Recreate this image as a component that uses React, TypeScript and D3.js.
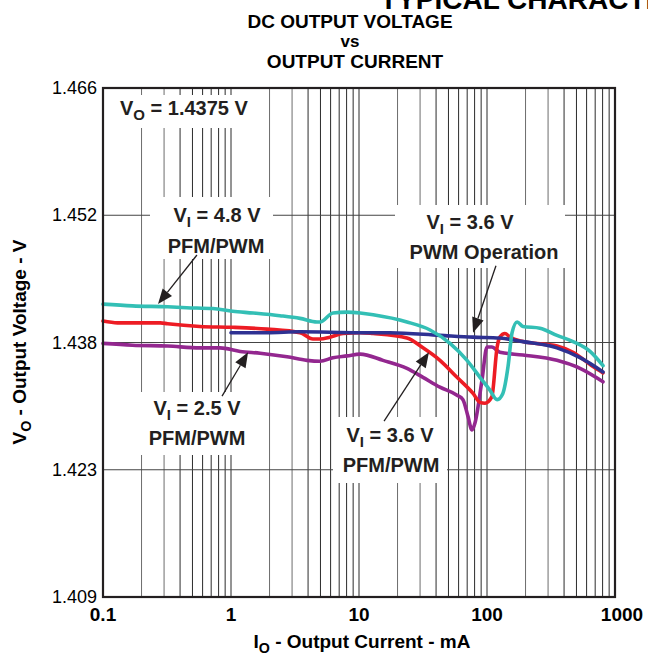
import * as d3 from 'd3'

// Output current (mA) / output voltage (V)
const cyanI = [0.1, 0.17, 0.32, 0.45, 0.72, 1.03, 1.49, 2.41, 3.46, 4.7, 4.96, 6.26, 8.06, 10.2, 12.9, 23.7, 35.9, 51.4, 69.8, 88.1, 105, 120, 133, 146, 157, 172, 191, 259, 352, 470, 638, 806]
const cyanV = [1.4418, 1.4416, 1.4415, 1.4414, 1.4413, 1.441, 1.4408, 1.4405, 1.4402, 1.4398, 1.4398, 1.4408, 1.4409, 1.4408, 1.4406, 1.4398, 1.4389, 1.4374, 1.4355, 1.4336, 1.4322, 1.4311, 1.4318, 1.4348, 1.4386, 1.4398, 1.4393, 1.4391, 1.4383, 1.4376, 1.4365, 1.4349]

const redI = [0.1, 0.13, 0.28, 0.32, 0.57, 1.03, 1.91, 3.46, 4.37, 4.96, 5.93, 7.5, 10.2, 12.9, 23.7, 31.6, 42.9, 58.3, 77.8, 88.1, 96.5, 109, 120, 126, 138, 151, 191, 352, 470, 673, 806]
const redV = [1.4399, 1.4397, 1.4397, 1.4396, 1.4393, 1.4392, 1.439, 1.4386, 1.4379, 1.4379, 1.4381, 1.4385, 1.4386, 1.4385, 1.438, 1.4369, 1.4355, 1.4336, 1.4318, 1.4308, 1.4307, 1.4314, 1.437, 1.4381, 1.4385, 1.4381, 1.4376, 1.4371, 1.4364, 1.4348, 1.4341]

const blueI = [1.0, 1.91, 3.46, 10.2, 17.5, 42.9, 77.8, 126, 191, 352, 533, 806]
const blueV = [1.4386, 1.4386, 1.4387, 1.4386, 1.4386, 1.4383, 1.4381, 1.438, 1.4376, 1.4369, 1.4358, 1.4342]

const purpleI = [0.1, 0.17, 0.32, 0.57, 0.82, 1.18, 1.69, 2.74, 3.92, 4.96, 6.26, 8.06, 10.2, 15.4, 23.7, 31.6, 42.9, 58.3, 64.9, 71.1, 76.3, 80.6, 91.4, 100, 109, 126, 191, 352, 533, 806]
const purpleV = [1.4374, 1.4372, 1.4371, 1.4369, 1.4369, 1.4365, 1.4363, 1.4359, 1.4355, 1.4354, 1.4358, 1.436, 1.4362, 1.4355, 1.4346, 1.4336, 1.4325, 1.4316, 1.4311, 1.4292, 1.4277, 1.4285, 1.4333, 1.437, 1.437, 1.4364, 1.4361, 1.4355, 1.4346, 1.4331]

const yTicks = [1.409, 1.42325, 1.4375, 1.45175, 1.466]
const yTickLabels = ['1.409', '1.423', '1.438', '1.452', '1.466']
const xTicks = [0.1, 1, 10, 100, 1000]
const xTickLabels = ['0.1', '1', '10', '100', '1000']

// arrows: [fromI, fromV, toI, toV]
const arrows = [
  [0.542, 1.4473, 0.269, 1.4418],
  [0.851, 1.4315, 1.36, 1.4364],
  [15.7, 1.4287, 35.2, 1.4364],
  [117.5, 1.4461, 77.8, 1.4386]
]

const font = '"Liberation Sans", Arial, Helvetica, sans-serif'

export default function App() {
  const width = 648
  const height = 657
  const left = 103, right = 615, top = 88, bottom = 597

  const x = d3.scaleLog().domain([0.1, 1000]).range([left, right])
  const y = d3.scaleLinear().domain([1.409, 1.466]).range([bottom, top])

  const line = d3.line<[number, number]>()
    .x(d => x(d[0]))
    .y(d => y(d[1]))
    .curve(d3.curveMonotoneX)

  const series = [
    { I: purpleI, V: purpleV, color: '#93278f' },
    { I: redI, V: redV, color: '#ed1c24' },
    { I: blueI, V: blueV, color: '#2e3192' },
    { I: cyanI, V: cyanV, color: '#33bfb5' }
  ]

  const minor: number[] = []
  ;[0.1, 1, 10, 100].forEach(dec => {
    for (let k = 1; k <= 9; k++) if (dec * k > 0.1) minor.push(dec * k)
  })

  // white label boxes that hide the grid
  const boxes = [
    { x: 108, y: 95, w: 160, h: 33 },
    { x: 150, y: 197, w: 123, h: 62 },
    { x: 395, y: 205, w: 170, h: 63 },
    { x: 128, y: 392, w: 130, h: 63 },
    { x: 333, y: 417, w: 114, h: 66 }
  ]

  const sub = (main: string, s: string, rest: string) => (
    <>
      {main}
      <tspan dy={5} fontSize="0.75em">{s}</tspan>
      <tspan dy={-5}>{rest}</tspan>
    </>
  )

  return (
    <svg width={width} height={height} style={{ position: 'absolute', left: 0, top: 0 }} fontFamily={font}>
      <rect width={width} height={height} fill="#fff" />
      <text x={380} y={9} fontSize={28} fontWeight="bold">TYPICAL CHARACTERISTICS</text>
      <g fontWeight="bold" fontSize={19} textAnchor="middle">
        <text x={350} y={28}>DC OUTPUT VOLTAGE</text>
        <text x={350} y={47} fontSize={17}>vs</text>
        <text x={355} y={68}>OUTPUT CURRENT</text>
      </g>

      {/* grid */}
      {minor.map((v, i) => (
        <line key={'v' + i} x1={x(v)} x2={x(v)} y1={top} y2={bottom}
          stroke={i % 9 < 2 ? '#6d6d6d' : '#2b2b2b'} strokeWidth={1} />
      ))}
      {yTicks.slice(1, -1).map((v, i) => (
        <line key={'h' + i} x1={left} x2={right} y1={y(v)} y2={y(v)} stroke="#444" strokeWidth={1.2} />
      ))}

      {boxes.map((b, i) => (
        <rect key={'b' + i} x={b.x} y={b.y} width={b.w} height={b.h} fill="#fff" />
      ))}

      {/* curves */}
      {series.map((s, i) => (
        <path key={'s' + i} d={line(s.I.map((v, j) => [v, s.V[j]] as [number, number])) || ''}
          fill="none" stroke={s.color} strokeWidth={3.6} strokeLinejoin="round" strokeLinecap="round" />
      ))}

      <rect x={left} y={top} width={right - left} height={bottom - top} fill="none" stroke="#231f20" strokeWidth={2.2} />

      {/* ticks */}
      <g fontSize={18} textAnchor="end">
        {yTicks.map((v, i) => (
          <text key={'yt' + i} x={left - 6} y={y(v) + 6}>{yTickLabels[i]}</text>
        ))}
      </g>
      <g fontSize={19} fontWeight="bold" textAnchor="middle">
        {xTicks.map((v, i) => (
          <text key={'xt' + i} x={x(v) + (i === 4 ? 7 : 0)} y={bottom + 24}>{xTickLabels[i]}</text>
        ))}
      </g>

      {/* axis titles */}
      <text x={362} y={648} fontSize={19} fontWeight="bold" textAnchor="middle">
        {sub('I', 'O', ' - Output Current - mA')}
      </text>
      <text transform="translate(26,342) rotate(-90)" fontSize={19} fontWeight="bold" textAnchor="middle">
        {sub('V', 'O', ' - Output Voltage - V')}
      </text>

      {/* annotations */}
      <g fontSize={20} fontWeight="bold" fill="#231f20" textAnchor="middle">
        <text x={120} y={115} textAnchor="start">{sub('V', 'O', ' = 1.4375 V')}</text>
        <text x={217} y={222}>{sub('V', 'I', ' = 4.8 V')}</text>
        <text x={216} y={253}>PFM/PWM</text>
        <text x={470} y={229}>{sub('V', 'I', ' = 3.6 V')}</text>
        <text x={484} y={259}>PWM Operation</text>
        <text x={197} y={415}>{sub('V', 'I', ' = 2.5 V')}</text>
        <text x={197} y={445}>PFM/PWM</text>
        <text x={390} y={442}>{sub('V', 'I', ' = 3.6 V')}</text>
        <text x={391} y={472}>PFM/PWM</text>
      </g>
      {arrows.map((a, i) => {
        const x0 = x(a[0]), y0 = y(a[1]), x1 = x(a[2]), y1 = y(a[3])
        const ang = Math.atan2(y1 - y0, x1 - x0)
        const L = 15, Wd = 6
        const bx = x1 - L * Math.cos(ang), by = y1 - L * Math.sin(ang)
        const px = -Math.sin(ang) * Wd, py = Math.cos(ang) * Wd
        return (
          <g key={'a' + i}>
            <line x1={x0} y1={y0} x2={bx} y2={by} stroke="#231f20" strokeWidth={1.3} />
            <path d={`M${x1},${y1}L${bx + px},${by + py}L${bx - px},${by - py}Z`} fill="#231f20" />
          </g>
        )
      })}
    </svg>
  )
}
